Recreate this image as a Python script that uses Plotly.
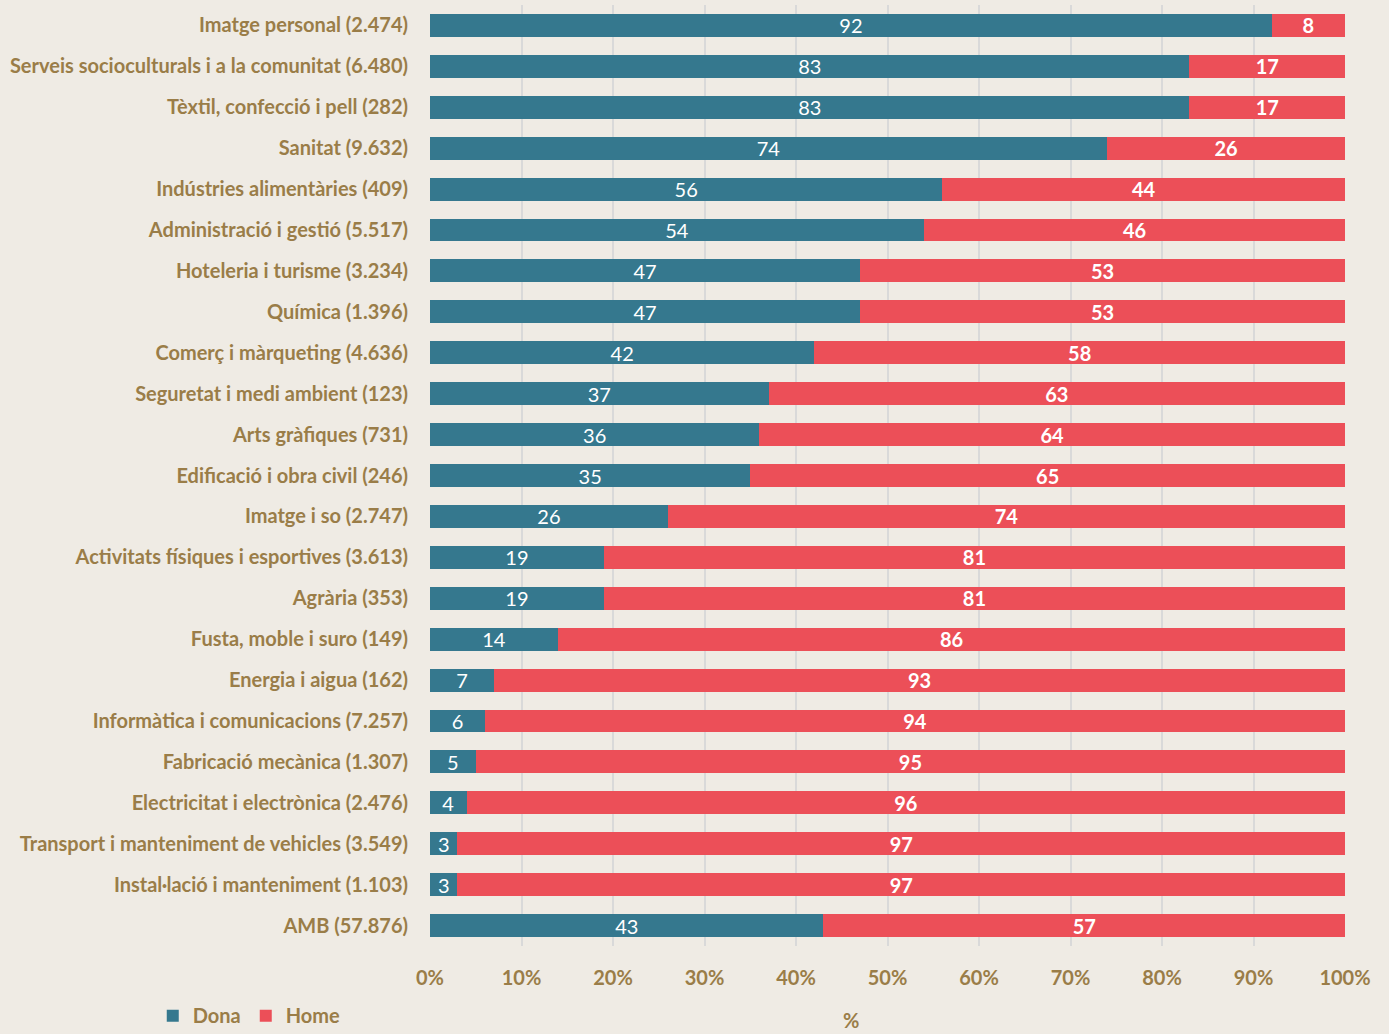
import plotly.graph_objects as go

# Families (number of students) and share by sex, in %
categories = [
    "Imatge personal (2.474)",
    "Serveis socioculturals i a la comunitat (6.480)",
    "Tèxtil, confecció i pell (282)",
    "Sanitat (9.632)",
    "Indústries alimentàries (409)",
    "Administració i gestió (5.517)",
    "Hoteleria i turisme (3.234)",
    "Química (1.396)",
    "Comerç i màrqueting (4.636)",
    "Seguretat i medi ambient (123)",
    "Arts gràfiques (731)",
    "Edificació i obra civil (246)",
    "Imatge i so (2.747)",
    "Activitats físiques i esportives (3.613)",
    "Agrària (353)",
    "Fusta, moble i suro (149)",
    "Energia i aigua (162)",
    "Informàtica i comunicacions (7.257)",
    "Fabricació mecànica (1.307)",
    "Electricitat i electrònica (2.476)",
    "Transport i manteniment de vehicles (3.549)",
    "Instal·lació i manteniment (1.103)",
    "AMB (57.876)",
]
dona = [92, 83, 83, 74, 56, 54, 47, 47, 42, 37, 36, 35, 26, 19, 19, 14, 7, 6, 5, 4, 3, 3, 43]
home = [8, 17, 17, 26, 44, 46, 53, 53, 58, 63, 64, 65, 74, 81, 81, 86, 93, 94, 95, 96, 97, 97, 57]
x_ticks = [0, 10, 20, 30, 40, 50, 60, 70, 80, 90, 100]

BG = "#efebe4"
TXT = "#9a7d48"
BLUE = "#35788e"
RED = "#ec4f58"
FONT = "Lato, 'Open Sans', sans-serif"

fig = go.Figure()
fig.add_trace(go.Bar(
    y=categories, x=dona, name="Dona", orientation="h",
    marker=dict(color=BLUE, line=dict(width=0)),
    text=[str(v) for v in dona], textposition="inside", insidetextanchor="middle",
    textangle=0,
    textfont=dict(color="white", size=20, family=FONT),
    constraintext="none", cliponaxis=False,
))
fig.add_trace(go.Bar(
    y=categories, x=home, name="Home", orientation="h",
    marker=dict(color=RED, line=dict(width=0)),
    text=[f"<b>{v}</b>" for v in home], textposition="inside", insidetextanchor="middle",
    textangle=0,
    textfont=dict(color="white", size=20, family=FONT),
    constraintext="none", cliponaxis=False,
))

fig.update_layout(
    barmode="stack",
    bargap=0.44,
    width=1389, height=1034,
    margin=dict(l=430, r=44, t=5, b=88, autoexpand=False),
    paper_bgcolor=BG, plot_bgcolor=BG,
    font=dict(family=FONT, color=TXT),
    uniformtext=dict(minsize=8, mode="show"),
    legend=dict(
        orientation="h", x=-0.303, xanchor="left", y=-0.074, yanchor="middle",
        font=dict(size=20, color=TXT, family=FONT, weight="bold"),
        itemwidth=30, traceorder="normal", bgcolor="rgba(0,0,0,0)",
    ),
    xaxis=dict(
        range=[0, 100], tickvals=x_ticks, ticktext=[f"{v}%" for v in x_ticks],
        showgrid=True, gridcolor="#d9d9d9", gridwidth=2, zeroline=False,
        tickfont=dict(size=20, color=TXT, family=FONT, weight="bold"),
        ticks="", ticklabelstandoff=18, fixedrange=True,
    ),
    yaxis=dict(
        autorange="reversed", showgrid=False, zeroline=False,
        tickfont=dict(size=20, color=TXT, family=FONT, weight="bold"),
        ticks="", ticklabelstandoff=21, showline=False,
    ),
    annotations=[dict(
        text="<b>%</b>", xref="paper", yref="paper", x=0.46, y=-0.0785,
        xanchor="center", yanchor="middle", showarrow=False,
        font=dict(size=20, color=TXT, family=FONT),
    )],
)

fig.write_html("out.html")
